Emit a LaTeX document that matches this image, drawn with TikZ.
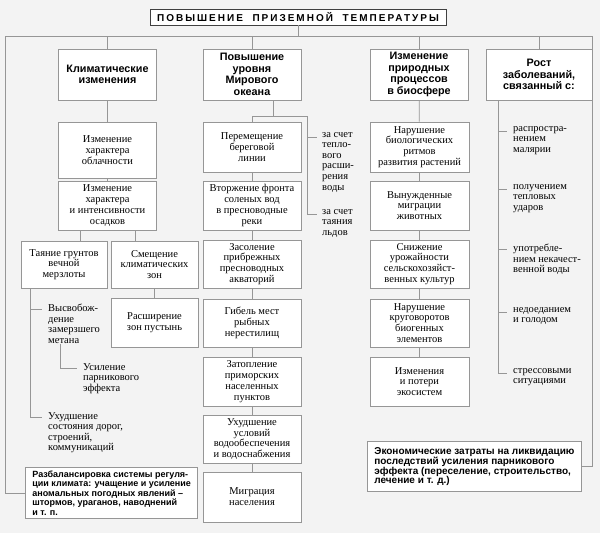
\documentclass[tikz,border=0pt]{standalone}
\usepackage{fontspec}
\setmainfont{Liberation Serif}
\newfontfamily\headfont{Liberation Sans}
\newfontfamily\titlefont{Liberation Sans}[LetterSpace=20]
\definecolor{paper}{RGB}{243,243,243}
\definecolor{rule}{RGB}{150,150,150}

\begin{document}
\begin{tikzpicture}[
    x=1pt, y=-1pt,
    box/.style={
        draw=rule,
        fill=white,
        line width=0.8pt,
        minimum width=98pt,
        inner sep=1pt,
        align=center,
        font=\fontsize{10.5}{10.8}\selectfont
    },
    head/.style={
        box,
        minimum height=51pt,
        font=\headfont\bfseries\fontsize{10.8}{11.5}\selectfont
    },
    side/.style={
        anchor=north west,
        align=left,
        inner sep=0pt,
        font=\fontsize{10.5}{10.6}\selectfont
    },
    note/.style={
        draw=rule,
        fill=white,
        line width=0.8pt,
        anchor=north west,
        align=left,
        inner xsep=7pt,
        inner ysep=3pt,
        font=\headfont\bfseries\fontsize{9}{9.5}\selectfont
    },
    link/.style={draw=rule, line width=0.8pt}
]

\fill[paper] (0,0) rectangle (600,533);
\useasboundingbox (0,0) rectangle (600,533);

% Title
\node[draw=black!75, fill=white, minimum width=296pt, minimum height=16pt,
      inner sep=0pt, font=\titlefont\bfseries\fontsize{10}{10}\selectfont]
      (title) at (298,17) {ПОВЫШЕНИЕ\ \ ПРИЗЕМНОЙ\ \ ТЕМПЕРАТУРЫ};

\coordinate (barL) at (5,36);
\coordinate (barR) at (592,36);

% Headers
\node[head] (h1) at (107.5,74.5) {Климатические\\изменения};
\node[head] (h2) at (252,74.5) {Повышение\\уровня\\Мирового\\океана};
\node[head] (h3) at (419,74.5) {Изменение\\природных\\процессов\\в биосфере};
\node[head, minimum width=106pt] (h4) at (539,74.5) {Рост\\заболеваний,\\связанный с:};

% Climate column
\node[box, minimum height=56pt] (c1a) at (107.5,150) {Изменение\\характера\\облачности};
\node[box, minimum height=49pt] (c1b) at (107.5,205.5) {Изменение\\характера\\и интенсивности\\осадков};
\node[box, minimum width=86pt, minimum height=47pt] (c1c) at (64,264.5) {Таяние грунтов\\вечной\\мерзлоты};
\node[box, minimum width=87pt, minimum height=47pt] (c1d) at (154.5,264.5) {Смещение\\климатических\\зон};
\node[box, minimum width=87pt, minimum height=49pt] (c1e) at (154.5,322.5) {Расширение\\зон пустынь};

\node[side] (t1) at (48,304) {Высвобож-\\дение\\замерзшего\\метана};
\node[side] (t2) at (83,363) {Усиление\\парникового\\эффекта};
\node[side] (t3) at (48,412) {Ухудшение\\состояния дорог,\\строений,\\коммуникаций};

% Ocean column
\node[box, minimum height=50pt] (c2a) at (252,147) {Перемещение\\береговой\\линии};
\node[box, minimum height=49pt] (c2b) at (252,205.5) {Вторжение фронта\\соленых вод\\в пресноводные\\реки};
\node[box, minimum height=48pt] (c2c) at (252,264) {Засоление\\прибрежных\\пресноводных\\акваторий};
\node[box, minimum height=48pt] (c2d) at (252,323) {Гибель мест\\рыбных\\нерестилищ};
\node[box, minimum height=49pt] (c2e) at (252,381.5) {Затопление\\приморских\\населенных\\пунктов};
\node[box, minimum height=48pt] (c2f) at (252,439) {Ухудшение\\условий\\водообеспечения\\и водоснабжения};
\node[box, minimum height=50pt] (c2g) at (252,497) {Миграция\\населения};

\node[side] (e1) at (322,132) {за счет\\тепло-\\вого\\расши-\\рения\\воды};
\node[side] (e2) at (322,209) {за счет\\таяния\\льдов};

% Biosphere column
\node[box, minimum width=99pt, minimum height=50pt] (c3a) at (419.5,147) {Нарушение\\биологических\\ритмов\\развития растений};
\node[box, minimum width=99pt, minimum height=49pt] (c3b) at (419.5,205.5) {Вынужденные\\миграции\\животных};
\node[box, minimum width=99pt, minimum height=48pt] (c3c) at (419.5,264) {Снижение\\урожайности\\сельскохозяйст-\\венных культур};
\node[box, minimum width=99pt, minimum height=48pt] (c3d) at (419.5,323) {Нарушение\\круговоротов\\биогенных\\элементов};
\node[box, minimum width=99pt, minimum height=49pt] (c3e) at (419.5,381.5) {Изменения\\и потери\\экосистем};

% Disease column
\node[side] (d1) at (513,126) {распростра-\\нением\\малярии};
\node[side] (d2) at (513,184) {получением\\тепловых\\ударов};
\node[side] (d3) at (513,244) {употребле-\\нием некачест-\\венной воды};
\node[side] (d4) at (513,307) {недоеданием\\и голодом};
\node[side] (d5) at (513,368) {стрессовыми\\ситуациями};

% Notes
\node[note, minimum width=172pt, minimum height=51pt] (n1) at (25,467)
    {Разбалансировка системы регуля-\\ции климата: учащение и усиление\\аномальных погодных явлений –\\штормов, ураганов, наводнений\\и т. п.};
\node[note, minimum width=213pt, minimum height=50pt,
      font=\headfont\bfseries\fontsize{10}{9.5}\selectfont] (n2) at (367,441)
    {Экономические затраты на ликвидацию\\последствий усиления парникового\\эффекта (переселение, строительство,\\лечение и т. д.)};

% Connections
\draw[link] (title.south) -- (title.south |- barL);
\draw[link] (barL) -- (barR);
\foreach \h in {h1,h2,h3,h4}
    \draw[link] (\h.north) -- (\h.north |- barL);
\draw[link] (barL) |- (n1.west);
\draw[link] (barR) |- (n2.east);

\foreach \a/\b in {h1/c1a,c1a/c1b,c1d/c1e,
                   c2a/c2b,c2b/c2c,c2c/c2d,c2d/c2e,c2e/c2f,c2f/c2g,
                   h3/c3a,c3a/c3b,c3b/c3c,c3c/c3d,c3d/c3e}
    \draw[link] (\a) -- (\b);

\draw[link] ([xshift=-27.5pt]c1b.south) -- ([xshift=-27.5pt]c1b.south |- c1c.north);
\draw[link] ([xshift=27.5pt]c1b.south) -- ([xshift=27.5pt]c1b.south |- c1d.north);
\draw[link] ([xshift=-34pt]c1c.south) |- ([xshift=-6pt,yshift=-5pt]t3.north west);
\draw[link] ([xshift=-18pt,yshift=-5pt]t1.north west) -- ++(12,0);
\draw[link] ([xshift=12pt]t1.south west) |- ([xshift=-6pt,yshift=-5pt]t2.north west);

\coordinate (j2L) at (252,116);
\coordinate (j2R) at (307,116);
\draw[link] ([xshift=21pt]h2.south) -- ([xshift=21pt]h2.south |- j2L);
\draw[link] (j2L) -- (j2R);
\draw[link] (j2L) -- (j2L |- c2a.north);
\draw[link] (j2R) |- ([xshift=-5pt,yshift=-5pt]e2.north west);
\draw[link] ([xshift=-15pt,yshift=-5pt]e1.north west) -- ++(10,0);

\draw[link] ([xshift=-41pt]h4.south) -- ([xshift=-15pt,yshift=-5pt]d5.north west) -- ++(9,0);
\foreach \t in {d1,d2,d3,d4}
    \draw[link] ([xshift=-15pt,yshift=-5pt]\t.north west) -- ++(9,0);

\end{tikzpicture}
\end{document}
